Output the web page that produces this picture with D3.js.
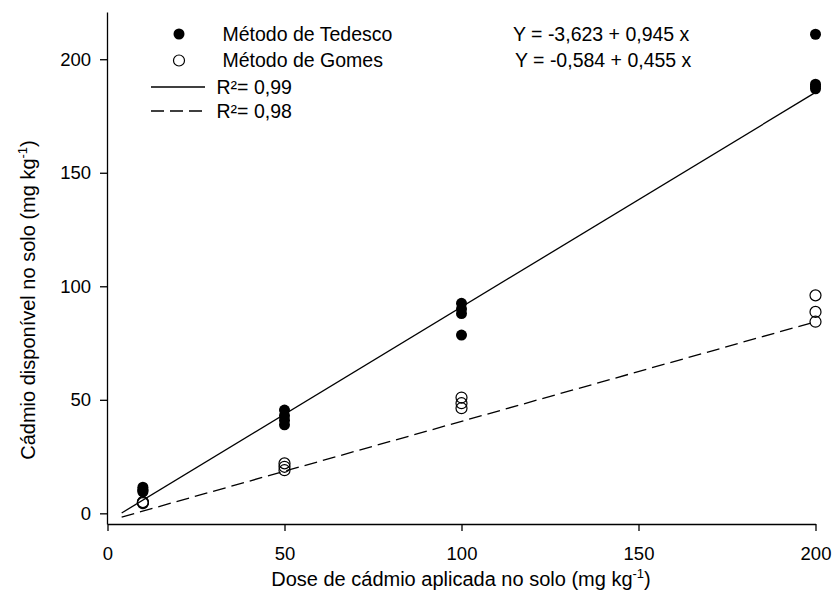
<!DOCTYPE html>
<html lang="pt">
<head>
<meta charset="UTF-8">
<script src="https://cdn.jsdelivr.net/npm/d3@7"></script>
<title>Cadmio</title>
<style>
  body { margin: 0; background: #fff; }
  text { font-family: Arial, "Liberation Sans", sans-serif; fill: #000; }
</style>
</head>
<body>
<script>
// doses de cadmio e valores
var doses = [10, 50, 100, 200];
var tedesco = [[9.5, 10.5, 11.5, 10], [39, 41, 43, 45.5], [92.5, 90, 88, 78.5], [211, 189, 188, 187]];
var gomes = [[4.5, 5, 4.8], [19, 20.5, 22], [51, 48.5, 46.3], [96, 88.7, 84.4]];
var xTicks = [0, 50, 100, 150, 200];
var yTicks = [0, 50, 100, 150, 200];
// retas ajustadas [intercepto, inclinacao] e intervalo desenhado
var fitTedesco = [-3.623, 0.945];
var fitGomes = [-3.4, 0.439];
var fitRange = [4, 200];
var legendLabels = ["Método de Tedesco", "Método de Gomes", "R²= 0,99", "R²= 0,98"];
var equations = ["Y = -3,623 + 0,945 x", "Y = -0,584 + 0,455 x"];

var width = 832, height = 616;

var svg = d3.select("body").append("svg")
    .attr("width", width)
    .attr("height", height);

var x = d3.scaleLinear().domain([0, 200]).range([107.5, 815.5]);
var y = d3.scaleLinear().domain([-4.7, 220.8]).range([524, 12]);

var xAxis = d3.axisBottom(x).tickValues(xTicks).tickSize(7).tickSizeOuter(0).tickPadding(16);
var yAxis = d3.axisLeft(y).tickValues(yTicks).tickSize(7).tickSizeOuter(0).tickPadding(9);

var gx = svg.append("g")
    .attr("transform", "translate(0,524)")
    .call(xAxis);
var gy = svg.append("g")
    .attr("transform", "translate(107,0)")
    .call(yAxis);

[gx, gy].forEach(function(g) {
    g.attr("font-family", null).attr("font-size", null);
    g.selectAll("path, line").attr("stroke", "#000").attr("stroke-width", 1.3);
    g.selectAll("text").style("font-size", "18.5px");
});

// titulos dos eixos
var xt = svg.append("text")
    .attr("x", 461).attr("y", 586)
    .attr("text-anchor", "middle")
    .style("font-size", "20px");
xt.append("tspan").text("Dose de cádmio aplicada no solo (mg kg");
xt.append("tspan").attr("dy", -8).style("font-size", "13px").text("-1");
xt.append("tspan").attr("dy", 8).text(")");

var yt = svg.append("text")
    .attr("transform", "translate(35,300) rotate(-90)")
    .attr("text-anchor", "middle")
    .style("font-size", "20px");
yt.append("tspan").text("Cádmio disponível no solo (mg kg");
yt.append("tspan").attr("dy", -8).style("font-size", "13px").text("-1");
yt.append("tspan").attr("dy", 8).text(")");

// retas de regressao
function fitLine(p) {
    return fitRange.map(function(d) { return [x(d), y(p[0] + p[1] * d)]; });
}
var line = d3.line();
svg.append("path")
    .attr("d", line(fitLine(fitTedesco)))
    .attr("fill", "none").attr("stroke", "#000").attr("stroke-width", 1.3);
svg.append("path")
    .attr("d", line(fitLine(fitGomes)))
    .attr("fill", "none").attr("stroke", "#000").attr("stroke-width", 1.3)
    .attr("stroke-dasharray", "13,6");

// pontos
function flatten(vals) {
    var out = [];
    vals.forEach(function(v, i) {
        v.forEach(function(d) { out.push({dose: doses[i], value: d}); });
    });
    return out;
}

svg.selectAll(".ted").data(flatten(tedesco)).enter()
    .append("circle")
    .attr("class", "ted")
    .attr("cx", function(d) { return x(d.dose); })
    .attr("cy", function(d) { return y(d.value); })
    .attr("r", 5.5)
    .attr("fill", "#000");

svg.selectAll(".gom").data(flatten(gomes)).enter()
    .append("circle")
    .attr("class", "gom")
    .attr("cx", function(d) { return x(d.dose); })
    .attr("cy", function(d) { return y(d.value); })
    .attr("r", 5.5)
    .attr("fill", "none")
    .attr("stroke", "#000")
    .attr("stroke-width", 1.2);

// legenda
var rows = [34, 60.5, 87, 111];
svg.append("circle").attr("cx", 179).attr("cy", rows[0]).attr("r", 5.5).attr("fill", "#000");
svg.append("circle").attr("cx", 179).attr("cy", rows[1]).attr("r", 5.5)
    .attr("fill", "none").attr("stroke", "#000").attr("stroke-width", 1.2);
svg.append("line").attr("x1", 151).attr("x2", 205).attr("y1", rows[2]).attr("y2", rows[2])
    .attr("stroke", "#000").attr("stroke-width", 1.3);
svg.append("line").attr("x1", 151).attr("x2", 205).attr("y1", rows[3]).attr("y2", rows[3])
    .attr("stroke", "#000").attr("stroke-width", 1.3).attr("stroke-dasharray", "13,6");

svg.selectAll(".leg").data(legendLabels).enter()
    .append("text")
    .attr("class", "leg")
    .attr("x", function(d, i) { return i < 2 ? 222.5 : 216.5; })
    .attr("y", function(d, i) { return rows[i]; })
    .attr("dy", "0.35em")
    .style("font-size", "19.5px")
    .text(function(d) { return d; });

svg.selectAll(".eq").data(equations).enter()
    .append("text")
    .attr("class", "eq")
    .attr("x", function(d, i) { return i === 0 ? 513 : 515; })
    .attr("y", function(d, i) { return rows[i]; })
    .attr("dy", "0.35em")
    .style("font-size", "19.5px")
    .text(function(d) { return d; });
</script>
</body>
</html>
